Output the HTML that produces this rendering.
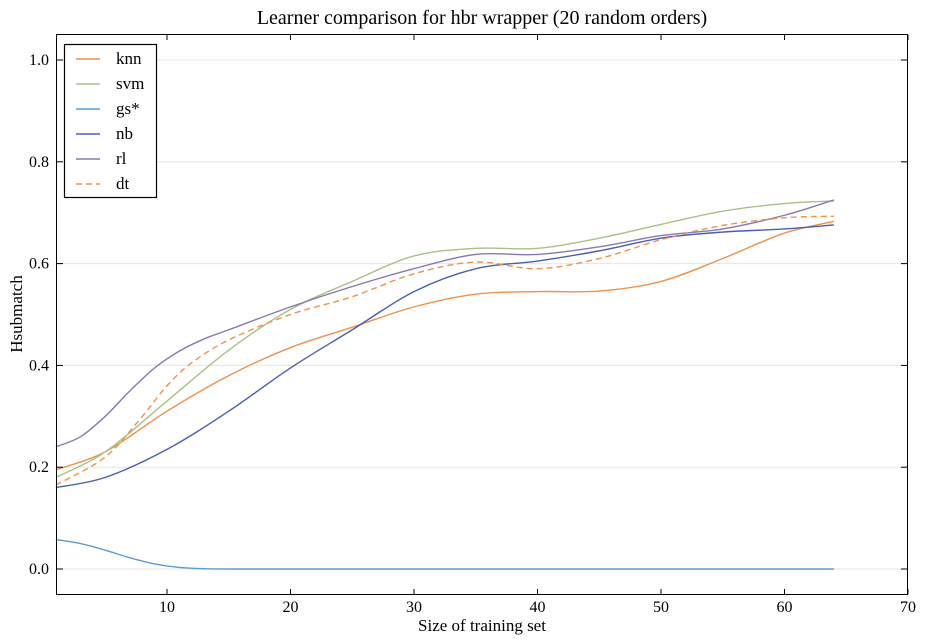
<!DOCTYPE html>
<html><head><style>
body{margin:0;background:#fff;}
svg{display:block;font-family:"Liberation Serif",serif;}
</style></head><body>
<svg id="s" width="926" height="644" viewBox="0 0 926 644">
<rect width="926" height="644" fill="#fff"/>
<text x="482" y="24" font-size="20" text-anchor="middle">Learner comparison for hbr wrapper (20 random orders)</text>
<g id="grid" stroke="#e6e6e6" stroke-width="1"></g>
<g id="curves" fill="none" stroke-width="1.4"></g>
<rect x="56.5" y="34.5" width="851" height="560" fill="none" stroke="#000" stroke-width="1"/>
<g id="ticks" stroke="#000" stroke-width="1"></g>
<g id="labels" font-size="16"></g>
<text x="482" y="631" font-size="17" text-anchor="middle">Size of training set</text>
<text x="22" y="314" font-size="17" text-anchor="middle" transform="rotate(-90 22 314)">Hsubmatch</text>
<g>
<rect x="64.5" y="44.5" width="92" height="153" fill="#fff" stroke="#000" stroke-width="1.2"/>
<g stroke-width="1.4">
<line x1="76" x2="100" y1="59" y2="59" stroke="#f0914a"/>
<line x1="76" x2="100" y1="84" y2="84" stroke="#a9c187"/>
<line x1="76" x2="100" y1="109" y2="109" stroke="#5b9bd5"/>
<line x1="76" x2="100" y1="134" y2="134" stroke="#4a5fb2"/>
<line x1="76" x2="100" y1="159" y2="159" stroke="#8a79b0"/>
<line x1="76" x2="100" y1="184" y2="184" stroke="#f0914a" stroke-dasharray="6,4"/>
</g>
<g font-size="17">
<text x="116" y="64">knn</text><text x="116" y="89">svm</text><text x="116" y="114">gs*</text>
<text x="116" y="139">nb</text><text x="116" y="164">rl</text><text x="116" y="189">dt</text>
</g>
</g>
</svg>
<script>
const X=x=>167+(x-10)*12.35, Y=y=>569-y*509;
const ns="http://www.w3.org/2000/svg";
function el(p,t,a,txt){const e=document.createElementNS(ns,t);for(const k in a)e.setAttribute(k,a[k]);if(txt!==undefined)e.textContent=txt;p.appendChild(e);return e;}
const grid=document.getElementById('grid'),ticks=document.getElementById('ticks'),labels=document.getElementById('labels'),curves=document.getElementById('curves');
for(let v=0;v<=1.001;v+=0.2){const y=Y(v);el(grid,'line',{x1:57,x2:907,y1:y,y2:y});
el(ticks,'line',{x1:57,x2:63,y1:y,y2:y});el(ticks,'line',{x1:901,x2:907,y1:y,y2:y});
el(labels,'text',{x:49,y:y+5,'text-anchor':'end'},v.toFixed(1));}
for(let v=10;v<=70;v+=10){const x=X(v);el(ticks,'line',{x1:x,x2:x,y1:589,y2:594});el(ticks,'line',{x1:x,x2:x,y1:35,y2:40});
el(labels,'text',{x:x,y:612,'text-anchor':'middle'},v);}
function path(pts){const p=pts.map(([a,b])=>[X(a),Y(b)]);let d=`M${p[0][0]},${p[0][1]}`;
for(let i=0;i<p.length-1;i++){const p0=p[i-1]||p[i],p1=p[i],p2=p[i+1],p3=p[i+2]||p2;
const c1=[p1[0]+(p2[0]-p0[0])/6,p1[1]+(p2[1]-p0[1])/6],c2=[p2[0]-(p3[0]-p1[0])/6,p2[1]-(p3[1]-p1[1])/6];
d+=` C${c1},${c2},${p2}`;}return d;}
const S=[
["#f0914a",[[1,.195],[5,.23],[10,.31],[15,.38],[20,.435],[25,.475],[30,.515],[35,.54],[40,.545],[45,.546],[50,.565],[55,.61],[60,.66],[64,.683]]],
["#a9c187",[[1,.18],[5,.23],[10,.33],[15,.43],[20,.51],[25,.565],[30,.615],[35,.63],[40,.63],[45,.65],[50,.677],[55,.703],[60,.718],[64,.723]]],
["#5b9bd5",[[1,.058],[3,.05],[5,.037],[7,.022],[9,.01],[11,.003],[13,.0005],[16,0],[30,0],[64,0]]],
["#4a5fb2",[[1,.16],[5,.18],[10,.235],[15,.31],[20,.395],[25,.47],[30,.545],[35,.59],[40,.605],[45,.625],[50,.65],[55,.662],[60,.668],[64,.676]]],
["#8a79b0",[[1,.24],[3,.26],[5,.3],[7,.35],[9,.395],[11,.428],[13,.452],[15,.47],[20,.515],[25,.555],[30,.59],[35,.618],[40,.618],[45,.633],[50,.655],[55,.668],[60,.695],[64,.725]]],
["#f0914a",[[1,.165],[5,.22],[8,.3],[10,.36],[12,.405],[15,.45],[20,.5],[25,.535],[30,.58],[35,.603],[40,.59],[45,.61],[50,.647],[55,.675],[60,.69],[64,.693]],"6,4"]];
for(const [c,pts,da] of S){const a={d:path(pts),stroke:c};if(da)a['stroke-dasharray']=da;el(curves,'path',a);}
</script>
</body></html>
